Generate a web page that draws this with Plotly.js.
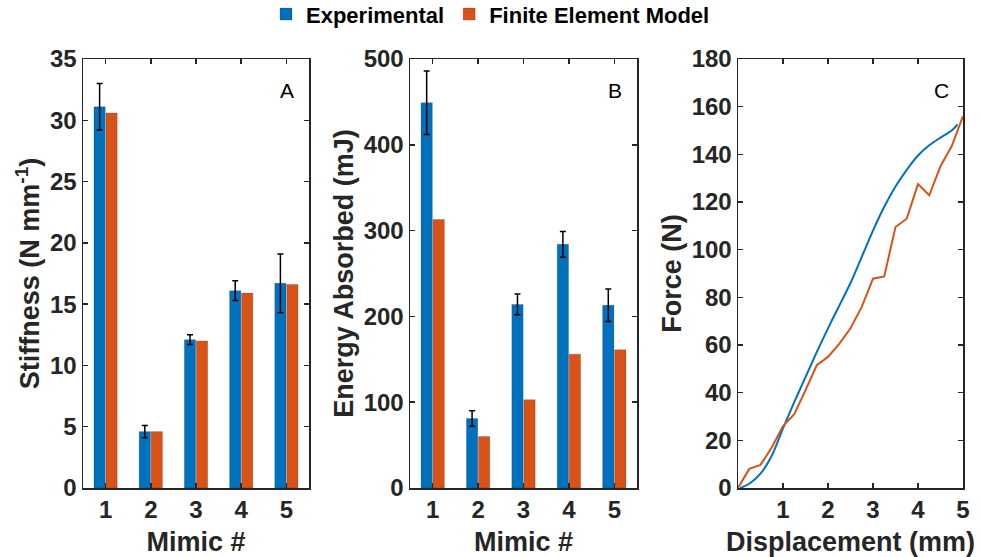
<!DOCTYPE html>
<html>
<head>
<meta charset="utf-8">
<script src="https://cdn.plot.ly/plotly-3.0.1.min.js"></script>
<style>html,body{margin:0;padding:0;background:#fff;}#chart{width:981px;height:557px;}</style>
</head>
<body>
<div id="chart"></div>
<script>
// ---- data ----
const mimics = [1, 2, 3, 4, 5];
const stiffnessExp = [31.1, 4.6, 12.1, 16.1, 16.7];
const stiffnessExpErr = [1.9, 0.5, 0.4, 0.8, 2.4];
const stiffnessFEM = [30.6, 4.6, 12.0, 15.9, 16.6];
const energyExp = [449, 81, 214, 284, 213];
const energyExpErr = [37, 9, 12, 15, 19];
const energyFEM = [313, 60, 103, 156, 161];
const dispExp = [0.05, 0.25, 0.5, 0.75, 1.0, 1.25, 1.5, 1.75, 2.0, 2.25, 2.5, 2.75, 3.0, 3.25, 3.5, 3.75, 4.0, 4.25, 4.5, 4.75, 4.88];
const forceExp = [0, 1.8, 6, 13.5, 25, 36, 46.5, 57, 67, 76.5, 86, 97, 108, 118, 126.5, 133.5, 139.5, 143.8, 147, 150, 152.5];
const dispFEM = [0, 0.25, 0.5, 0.75, 1.0, 1.25, 1.5, 1.75, 2.0, 2.25, 2.5, 2.75, 3.0, 3.25, 3.5, 3.75, 4.0, 4.25, 4.5, 4.75, 5.0];
const forceFEM = [0, 8, 9.7, 17, 26, 31, 41, 51.5, 55, 60.5, 67, 76, 87.8, 88.8, 109.5, 113, 127.5, 122.8, 135, 143.5, 156];
const xTickLabels = ['1', '2', '3', '4', '5'];

const BLUE = '#0072BD', ORANGE = '#D95319', AX = '#262626';
const FONT = 'Liberation Sans, Arial, sans-serif';

function errObj(arr) {
  return {type: 'data', array: arr, visible: true, color: '#000', thickness: 1.5, width: 3};
}
const barLine = {width: 0.5, color: 'rgba(0,0,0,0.35)'};

const traces = [
  {type: 'bar', x: mimics, y: stiffnessExp, name: 'Experimental', marker: {color: BLUE, line: barLine},
   error_y: errObj(stiffnessExpErr), xaxis: 'x', yaxis: 'y', legendgroup: 'e'},
  {type: 'bar', x: mimics, y: stiffnessFEM, name: 'Finite Element Model', marker: {color: ORANGE, line: barLine},
   xaxis: 'x', yaxis: 'y', legendgroup: 'f'},
  {type: 'bar', x: mimics, y: energyExp, name: 'Experimental', marker: {color: BLUE, line: barLine},
   error_y: errObj(energyExpErr), xaxis: 'x2', yaxis: 'y2', legendgroup: 'e', showlegend: false},
  {type: 'bar', x: mimics, y: energyFEM, name: 'Finite Element Model', marker: {color: ORANGE, line: barLine},
   xaxis: 'x2', yaxis: 'y2', legendgroup: 'f', showlegend: false},
  {type: 'scatter', mode: 'lines', x: dispExp, y: forceExp, line: {color: BLUE, width: 2, shape: 'spline', smoothing: 0.8},
   xaxis: 'x3', yaxis: 'y3', showlegend: false},
  {type: 'scatter', mode: 'lines', x: dispFEM, y: forceFEM, line: {color: ORANGE, width: 2},
   xaxis: 'x3', yaxis: 'y3', showlegend: false}
];

const tickFont = {family: FONT, size: 24, color: AX, weight: 'bold'};
const titleFont = {family: FONT, size: 27, color: AX, weight: 'bold'};
const yDom = [1 - 488 / 557, 1 - 59 / 557];

function axBase(extra) {
  return Object.assign({
    showline: true, linecolor: AX, linewidth: 1.5, mirror: 'ticks',
    ticks: 'inside', ticklen: 5, tickwidth: 1.5, tickcolor: AX,
    showgrid: false, zeroline: false, tickfont: tickFont, fixedrange: true
  }, extra);
}

const layout = {
  width: 981, height: 557,
  margin: {l: 0, r: 0, t: 0, b: 0, autoexpand: false},
  paper_bgcolor: '#fff', plot_bgcolor: '#fff',
  font: {family: FONT, color: AX},
  barmode: 'group', bargap: 0.47, bargroupgap: 0.06,
  showlegend: true,
  legend: {orientation: 'h', x: 0.5, xanchor: 'center', y: 1.012, yanchor: 'top',
           font: {family: FONT, size: 22, color: '#000', weight: 'bold'},
           itemwidth: 30, tracegroupgap: 0, bgcolor: 'rgba(0,0,0,0)'},
  xaxis: axBase({domain: [83 / 981, 309 / 981], range: [0.5, 5.5], tickvals: mimics, ticktext: xTickLabels,
                 title: {text: 'Mimic #', font: titleFont, standoff: 10}, anchor: 'y'}),
  yaxis: axBase({domain: yDom, range: [0, 35], dtick: 5, anchor: 'x',
                 title: {text: 'Stiffness (N mm<sup>-1</sup>)', font: titleFont, standoff: 2}}),
  xaxis2: axBase({domain: [410 / 981, 637 / 981], range: [0.5, 5.5], tickvals: mimics, ticktext: xTickLabels,
                  title: {text: 'Mimic #', font: titleFont, standoff: 10}, anchor: 'y2'}),
  yaxis2: axBase({domain: yDom, range: [0, 500], dtick: 100, anchor: 'x2',
                  title: {text: 'Energy Absorbed (mJ)', font: titleFont, standoff: 2}}),
  xaxis3: axBase({domain: [738 / 981, 963 / 981], range: [0, 5], tickvals: [1, 2, 3, 4, 5],
                  title: {text: 'Displacement (mm)', font: titleFont, standoff: 10}, anchor: 'y3'}),
  yaxis3: axBase({domain: yDom, range: [0, 180], dtick: 20, anchor: 'x3',
                  title: {text: 'Force (N)', font: titleFont, standoff: 2}}),
  annotations: [
    {text: 'A', xref: 'x domain', yref: 'y domain', x: 0.903, y: 0.927, xanchor: 'center', yanchor: 'middle',
     showarrow: false, font: {family: FONT, size: 21, color: '#000'}},
    {text: 'B', xref: 'x2 domain', yref: 'y2 domain', x: 0.905, y: 0.927, xanchor: 'center', yanchor: 'middle',
     showarrow: false, font: {family: FONT, size: 21, color: '#000'}},
    {text: 'C', xref: 'x3 domain', yref: 'y3 domain', x: 0.905, y: 0.927, xanchor: 'center', yanchor: 'middle',
     showarrow: false, font: {family: FONT, size: 21, color: '#000'}}
  ]
};

Plotly.newPlot('chart', traces, layout, {displayModeBar: false, staticPlot: true});
</script>
</body>
</html>
